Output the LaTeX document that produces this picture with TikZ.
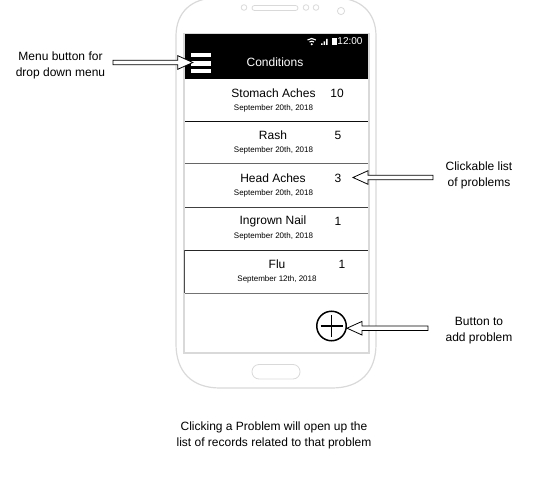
\documentclass[tikz,border=0pt]{standalone}
\usepackage{fontspec}
\setmainfont{Liberation Sans}
\usetikzlibrary{calc}
\definecolor{cShell}{HTML}{D9D9D9}
\tikzset{
	shell/.style={draw=cShell, line width=1.2pt},
	rowline/.style={draw=black!70, line width=1pt},
	title/.style={font=\fontsize{12}{14}\selectfont, inner sep=0pt},
	date/.style={font=\fontsize{8}{10}\selectfont, inner sep=0pt},
	note/.style={font=\fontsize{12}{16}\selectfont, align=center, inner sep=0pt},
	blockarrow/.style={draw=black, fill=white, line width=0.8pt,
		to path={($(\tikztotarget)!15pt!(\tikztostart)$) coordinate (headback)
			($(\tikztostart)!2.3pt!90:(\tikztotarget)$) -- ($(headback)!2.3pt!-90:(\tikztostart)$)
			-- ($(headback)!6.8pt!-90:(\tikztostart)$) -- (\tikztotarget)
			-- ($(headback)!6.8pt!90:(\tikztostart)$) -- ($(headback)!2.3pt!90:(\tikztostart)$)
			-- ($(\tikztostart)!2.3pt!-90:(\tikztotarget)$) -- cycle}},
}
\begin{document}
\begin{tikzpicture}[x=1pt, y=-1pt]
		\useasboundingbox (0,0) rectangle (548,497);
		% phone
		\begin{scope}
		\clip (0,0) rectangle (548,497);
		\draw [shell] (176,36) .. controls (176,12) and (192,-2) .. (216,-2) -- (336,-2) .. controls (360,-2) and (376,12) .. (376,36) -- (376,344) .. controls (376,372) and (360,388) .. (332,388) -- (220,388) .. controls (192,388) and (176,372) .. (176,344) -- cycle;
		\end{scope}
		\draw [shell] (184,34) rectangle (369,353);
		\fill [black] (185,34) rectangle (368,79);
		\draw [shell, line width=0.8pt, rounded corners=2.5pt] (252,5.5) rectangle (298,10.5);
		\draw [shell, line width=0.8pt] (244,7.5) circle (2.8);
		\draw [shell, line width=0.8pt] (306,7.5) circle (2.8);
		\draw [shell, line width=0.8pt] (316,7.5) circle (2.8);
		\draw [shell, line width=0.8pt] (341,11) circle (3.6);
		\draw [shell, line width=0.8pt, rounded corners=7pt] (252,364.5) rectangle (300,379);
		% header
		\foreach \y in {55,63.5,71}
			\fill [white] (191,\y-2.2) rectangle (211,\y+2.2);
		\node (menubtn) at (201,62.5) [minimum width=16pt, minimum height=20pt, inner sep=0pt] {};
		\node (header) at (275,62) [title, text=white] {Conditions};
		\node (clock) at (350,41) [date, text=white, font=\fontsize{10}{10}\selectfont] {12:00};
		\fill [white] (331.5,38) rectangle (336.5,45);
		\fill [white] (321,43.5) rectangle (322.5,45) (323.5,41.5) rectangle (325,45) (326,39) rectangle (327.5,45);
		\draw [white, line width=1.1pt] (307.5,40) arc (230:310:6.5);
		\draw [white, line width=1.1pt] (309.5,42) arc (230:310:3.5);
		\fill [white] (311.7,44.2) circle (1.1);
		% rows
		\foreach \name/\label/\count/\lx/\cx/\ly/\dy/\dx/\dtext in {
			a/Stomach Aches/10/273.5/337/93/108/273.5/September 20th{,} 2018,
			b/Rash/5/273/338/135/150/273.5/September 20th{,} 2018,
			c/Head Aches/3/273/338/178/193/273.5/September 20th{,} 2018,
			d/Ingrown Nail/1/273/338/221/236/273.5/September 20th{,} 2018,
			e/Flu/1/277/342/264/279/277/September 12th{,} 2018}{
			\node (title\name) at (\lx,\ly) [title] {\label};
			\node (count\name) at (\cx,\ly) [title] {\count};
			\node (date\name) at (\dx,\dy) [date] {\dtext};
		}
		\foreach \y/\shade in {121.5/95,164/60,207/75,250/85,293/55}
			\draw [rowline, draw=black!\shade] (185,\y) -- (368,\y);
		\draw [draw=black!70, line width=0.8pt] (184.5,250) -- (184.5,293);
		% add button
		\node (addbtn) at (331.5,326) [draw, circle, line width=1.5pt, minimum size=29.5pt, inner sep=0pt] {};
		\draw [line width=1.2pt] (addbtn.center) +(-11,0) -- +(11,0) (addbtn.center) +(0,-11) -- +(0,11);
		% notes
		\node (menunote) at (60.5,65.5) [note] {Menu button for\\drop down menu};
		\node (listnote) at (479,175) [note] {Clickable list\\of problems};
		\node (addnote) at (479,331) [note] {Button to\\add problem};
		\node (footnote) at (274,435) [note] {Clicking a Problem will open up the\\list of records related to that problem};
		\coordinate (menutail) at (113,62.5);
		\coordinate (listtail) at (433,177.5);
		\coordinate (listtip) at (353,177.5);
		\coordinate (addtail) at (428,328.2);
		\draw [blockarrow] (menutail) to (menubtn.west);
		\draw [blockarrow] (listtail) to (listtip);
		\draw [blockarrow] (addtail) to (addbtn.east |- addtail);
\end{tikzpicture}
\end{document}
